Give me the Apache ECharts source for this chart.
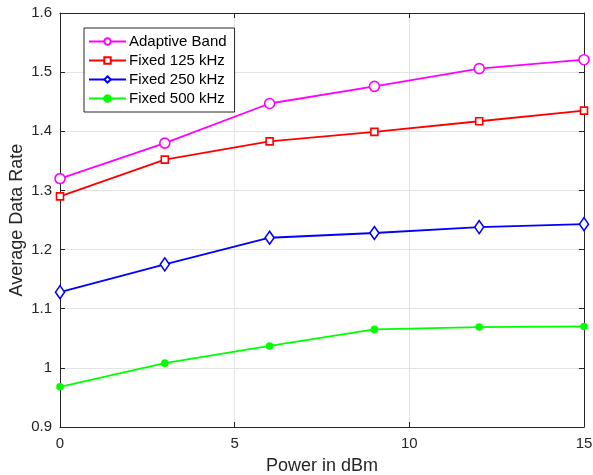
<!DOCTYPE html>
<html><head><meta charset="utf-8">
<script src="https://cdn.jsdelivr.net/npm/echarts@6/dist/echarts.min.js"></script>
<style>html,body{margin:0;padding:0;background:#fff}#c{width:593px;height:475px}</style>
</head><body><div id="c"></div>
<script>
const powerDbm = [0, 3, 6, 9, 12, 15];
const adaptiveBand = [1.320, 1.380, 1.447, 1.476, 1.506, 1.521];
const fixed125 = [1.290, 1.352, 1.383, 1.399, 1.417, 1.435];
const fixed250 = [1.128, 1.175, 1.220, 1.228, 1.238, 1.243];
const fixed500 = [0.968, 1.008, 1.037, 1.065, 1.069, 1.070];
const seriesNames = ['Adaptive Band', 'Fixed 125 kHz', 'Fixed 250 kHz', 'Fixed 500 kHz'];

const font = 'Liberation Sans, Arial, Helvetica, sans-serif';
const axisColor = '#262626';
function pairs(v){ return powerDbm.map((x,i)=>[x, v[i]]); }

const chart = echarts.init(document.getElementById('c'), null, {renderer:'canvas'});
const baseX = {type:'value', min:0, max:15, interval:5,
  axisLine:{show:true, onZero:false, lineStyle:{color:axisColor, width:1}},
  axisTick:{show:true, inside:true, length:5, lineStyle:{color:axisColor}},
  splitLine:{show:false}};
const baseY = {type:'value', min:0.9, max:1.6, interval:0.1,
  axisLine:{show:true, onZero:false, lineStyle:{color:axisColor, width:1}},
  axisTick:{show:true, inside:true, length:5, lineStyle:{color:axisColor}},
  splitLine:{show:false}};
function mk(name, data, color, symbol, size, hollow){
  return {name:name, type:'line', data:pairs(data), color:color,
    lineStyle:{width:1.8, color:color}, symbol:symbol, symbolSize:size,
    itemStyle:{color: hollow ? '#fff' : color, borderColor:color, borderWidth:1.6}};
}
chart.setOption({
  animation:false,
  backgroundColor:'#fff',
  grid:{left:60, right:9, top:13, bottom:48, containLabel:false, outerBoundsMode:'none'},
  legend:{
    orient:'vertical', left:84, top:28, data:seriesNames,
    backgroundColor:'#fff', borderColor:axisColor, borderWidth:1, borderRadius:0,
    padding:[6,8,6,4], itemWidth:37, itemHeight:8, itemGap:4,
    textStyle:{fontFamily:font, fontSize:15, color:'#000', padding:[0,0,0,-2]}
  },
  xAxis:[
    Object.assign({}, baseX, {position:'bottom',
      axisLabel:{show:true, margin:9, fontFamily:font, fontSize:15, color:axisColor},
      splitLine:{show:true, lineStyle:{color:'#e3e3e3', width:1}},
      name:'Power in dBm', nameLocation:'middle', nameGap:30, nameMoveOverlap:false,
      nameTextStyle:{fontFamily:font, fontSize:18, color:axisColor}}),
    Object.assign({}, baseX, {position:'top', axisLabel:{show:false}})
  ],
  yAxis:[
    Object.assign({}, baseY, {position:'left',
      axisLabel:{show:true, margin:8, fontFamily:font, fontSize:15, color:axisColor,
        formatter:v=>String(Math.round(v*10)/10)},
      splitLine:{show:true, lineStyle:{color:'#e3e3e3', width:1}},
      name:'Average Data Rate', nameLocation:'middle', nameGap:34, nameMoveOverlap:false,
      nameTextStyle:{fontFamily:font, fontSize:18, color:axisColor}}),
    Object.assign({}, baseY, {position:'right', axisLabel:{show:false}})
  ],
  series:[
    mk(seriesNames[0], adaptiveBand, '#ff00ff', 'circle', 10, true),
    mk(seriesNames[1], fixed125, '#ff0000', 'rect', 7, true),
    mk(seriesNames[2], fixed250, '#0000ff', 'diamond', [9,13], true),
    mk(seriesNames[3], fixed500, '#00ff00', 'circle', 6, false)
  ]
});
</script></body></html>
